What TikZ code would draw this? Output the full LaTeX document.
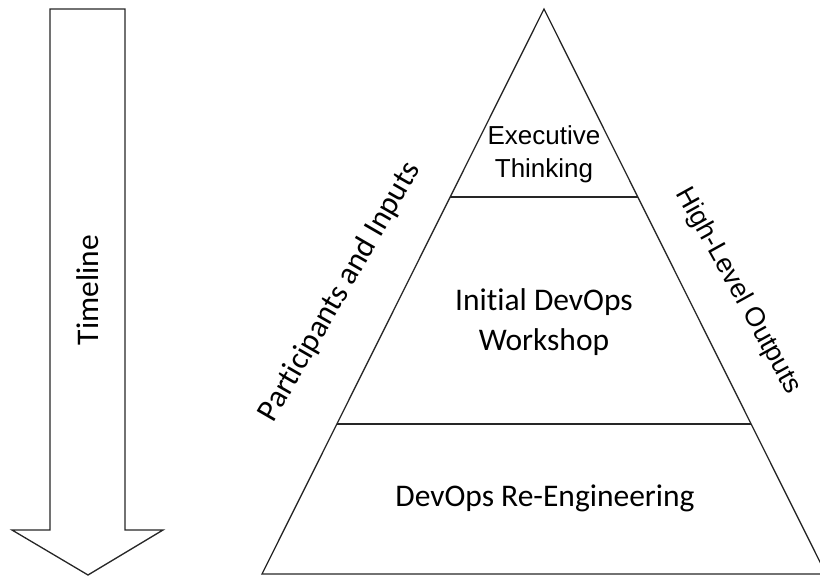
\documentclass[tikz,border=0pt]{standalone}
\usepackage{fontspec}
\setmainfont{Carlito}[Ligatures={NoCommon}]
\newfontfamily\arialfont{Liberation Sans}
\usetikzlibrary{calc}

\begin{document}
\begin{tikzpicture}[x=1pt,y=-1pt]
\tikzstyle{every node}+=[inner sep=0pt]
\tikzset{outline/.style={draw=black!85,line width=1.3pt,line join=miter},
  calibri/.style={font=\fontsize{31.5}{40}\selectfont,align=center},
  arial/.style={font=\arialfont\fontsize{26}{33}\selectfont,align=center}}
\useasboundingbox (0,0) rectangle (820,576);
% timeline arrow
\draw [outline] (50,9) -- (125,9) -- (125,530) -- (163,530) -- (88,575) -- (12,530) -- (50,530) -- cycle;
\node [calibri, rotate=90] (timeline) at (88,290) {Timeline};
% pyramid
\coordinate (apex) at (544,9);
\coordinate (bl) at (262,574);
\coordinate (br) at (826,574);
\draw [outline] (apex) -- (bl) -- (br) -- cycle;
\draw [outline] ($(apex)!0.333!(bl)$) -- ($(apex)!0.333!(br)$);
\draw [outline] ($(apex)!0.7345!(bl)$) -- ($(apex)!0.7345!(br)$);
\node [arial] (exec) at (544,154) {Executive\\Thinking};
\node [calibri] (workshop) at (544,322) {Initial DevOps\\Workshop};
\node [calibri] (reeng) at (545,498) {DevOps Re-Engineering};
% side labels
\node [calibri, rotate=60] (inputs) at (340,292) {Participants and Inputs};
\node [arial, font=\arialfont\fontsize{27}{33}\selectfont, rotate=-61] (outputs) at (738,291) {High-Level Outputs};
\end{tikzpicture}
\end{document}
